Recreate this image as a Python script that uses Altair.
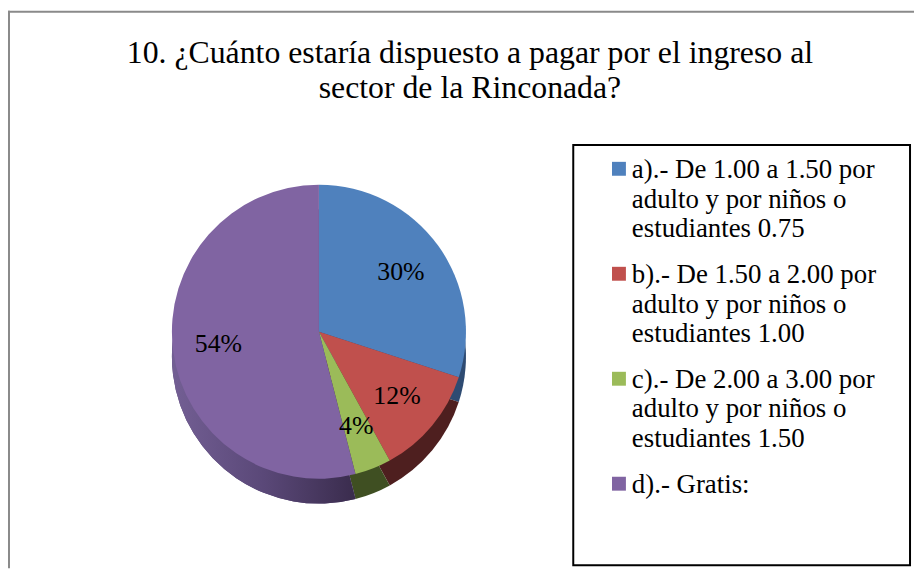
import altair as alt
import pandas as pd

# ---- data ----
categories = ["a", "b", "c", "d"]
values = [30, 12, 4, 54]
legend_lines = [
    ["a).- De 1.00 a 1.50 por", "adulto y por niños o", "estudiantes 0.75"],
    ["b).- De 1.50 a 2.00 por", "adulto y por niños o", "estudiantes 1.00"],
    ["c).- De 2.00 a 3.00 por", "adulto y por niños o", "estudiantes 1.50"],
    ["d).- Gratis:"],
]
title_lines = ["10. ¿Cuánto estaría dispuesto a pagar por el ingreso al",
               "sector de la Rinconada?"]

top_colors = ["#4F81BD", "#C0504D", "#9BBB59", "#8064A2"]
side_colors = ["#2E4B72", "#4E1F1F", "#3F4F22", "#574675"]

FONT = "Liberation Serif"
W, H = 912, 562
CX, CY, R, DEPTH = 313, 324, 148, 25

pie_df = pd.DataFrame({
    "cat": categories,
    "value": values,
    "idx": list(range(len(categories))),
})
legend_df = pd.DataFrame({
    "cat": categories,
    "text": ["|".join(l) for l in legend_lines],
})
one = pd.DataFrame({"k": [0]})

theta = alt.Theta("value:Q", stack=True)
order = alt.Order("idx:Q")

frame_left = alt.Chart(one).mark_rule(color="#8A8A8A", strokeWidth=2).encode(
    x=alt.value(1), y=alt.value(1), y2=alt.value(H))
frame_top = alt.Chart(one).mark_rule(color="#8A8A8A", strokeWidth=2).encode(
    x=alt.value(0), x2=alt.value(W), y=alt.value(2))

side = alt.Chart(pie_df).mark_arc(radius=R, stroke=None).encode(
    theta=theta, order=order,
    fill=alt.Fill("cat:N", scale=alt.Scale(domain=categories, range=side_colors), legend=None),
    x=alt.value(CX), y=alt.value(CY + DEPTH),
)
purple_grad = alt.LinearGradient(
    gradient="linear", x1=0, x2=1, y1=0, y2=0,
    stops=[alt.GradientStop(color="#735F94", offset=0),
           alt.GradientStop(color="#5A4878", offset=0.5),
           alt.GradientStop(color="#3A2C4D", offset=1)],
)
side_grad = alt.Chart(pie_df).mark_arc(radius=R, stroke=None, fill=purple_grad).encode(
    theta=theta, order=order,
    opacity=alt.condition(alt.datum.cat == "d", alt.value(1), alt.value(0)),
    x=alt.value(CX), y=alt.value(CY + DEPTH),
)
top = alt.Chart(pie_df).mark_arc(radius=R, stroke=None).encode(
    theta=theta, order=order,
    color=alt.Color("cat:N", scale=alt.Scale(domain=categories, range=top_colors), legend=None),
    x=alt.value(CX), y=alt.value(CY),
)
labels = alt.Chart(pie_df).transform_calculate(
    lbl="datum.value + '%'"
).mark_text(font=FONT, fontSize=26, color="black", align="center", baseline="middle").encode(
    theta=theta, order=order, text="lbl:N",
    radius=alt.value(102), x=alt.value(CX), y=alt.value(CY),
)

legend_box = alt.Chart(one).mark_rect(fill="white", stroke="black", strokeWidth=2).encode(
    x=alt.value(569), x2=alt.value(908), y=alt.value(136), y2=alt.value(559))

ypos = alt.Y("cat:N", scale=alt.Scale(type="point", domain=categories, range=[160, 477], padding=0), axis=None)
legend_sym = alt.Chart(legend_df).mark_square(size=196, opacity=1).encode(
    x=alt.value(615), y=ypos,
    color=alt.Color("cat:N", scale=alt.Scale(domain=categories, range=top_colors), legend=None),
)
legend_txt = alt.Chart(legend_df).transform_calculate(
    lines="split(datum.text, '|')"
).mark_text(font=FONT, fontSize=27, color="black", align="left", baseline="alphabetic",
            lineHeight=30, dy=9).encode(
    x=alt.value(628), y=ypos, text="lines:N",
)

chart = alt.layer(
    frame_left, frame_top, side, side_grad, top, labels, legend_box, legend_sym, legend_txt
).properties(
    width=W, height=H, padding=0,
    autosize=alt.AutoSizeParams(type="none"),
    title=alt.Title(text=title_lines, font=FONT, fontSize=32, fontWeight="normal",
                    color="black", anchor="middle", orient="top", baseline="alphabetic",
                    lineHeight=36, offset=-121, dx=9),
).configure_view(stroke=None)

chart.save("out.html", embed_options={"renderer": "svg", "actions": False})
